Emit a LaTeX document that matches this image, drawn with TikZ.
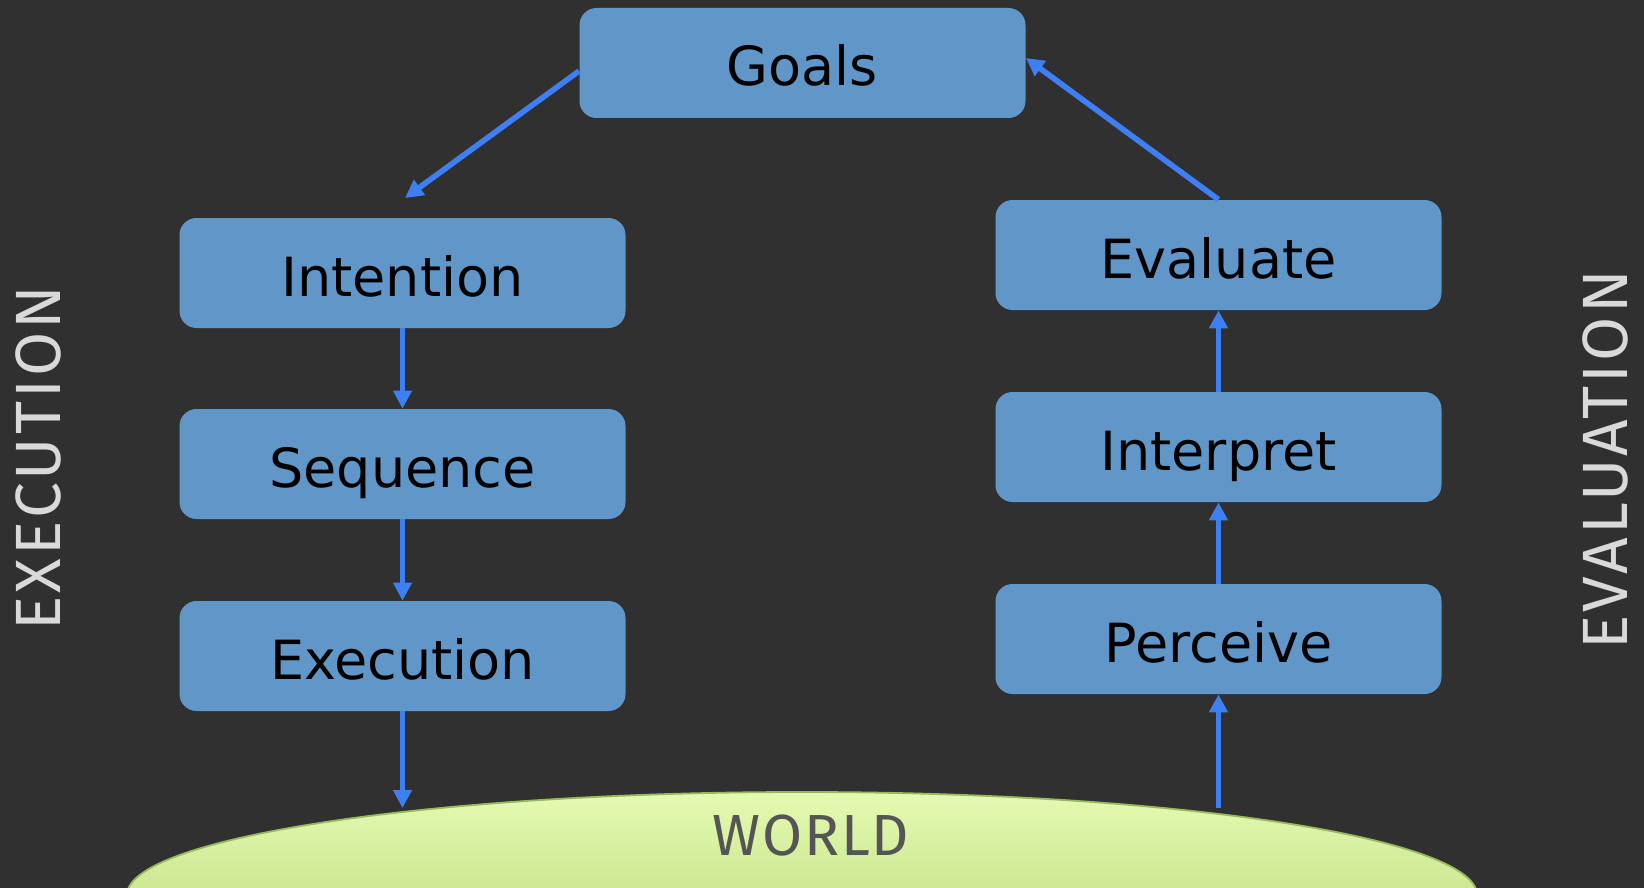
\documentclass[tikz,border=0pt]{standalone}
\usepackage{fontspec}
\setmainfont{DejaVu Sans}
\IfFontExistsTF{FiraSans-Light.otf}
  {\newfontfamily\thinfont{FiraSans-Light.otf}}
  {\newfontfamily\thinfont{Fira Sans}}
\usepackage{tikz}
\usetikzlibrary{arrows.meta}
\usetikzlibrary{shapes.geometric}
\usepackage{xcolor}

\definecolor{bgdark}{HTML}{303030}
\definecolor{boxblue}{HTML}{6096C8}
\definecolor{flowblue}{HTML}{3F7FF6}
\definecolor{sidegray}{HTML}{D9D9D9}
\definecolor{worldgray}{HTML}{555555}
\definecolor{worldtop}{HTML}{E4FAB2}
\definecolor{worldbottom}{HTML}{B4D470}
\definecolor{worldedge}{HTML}{98B85C}

\tikzset{
  stepbox/.style={rounded corners=8.5pt, fill=boxblue, minimum width=223pt, minimum height=55pt,
    inner sep=0pt, text height=23pt, text depth=0pt, font=\fontsize{27}{32}\selectfont, text=black},
  flow/.style={draw=flowblue, line width=2.8pt, -{Triangle[length=9pt,width=9pt]}},
  sidelabel/.style={inner sep=0pt, text=sidegray, font=\thinfont\addfontfeatures{LetterSpace=5}\fontsize{32}{38}\selectfont},
  worldshape/.style={ellipse, draw=worldedge, line width=0.9pt, top color=worldtop, bottom color=worldbottom,
    minimum width=675pt, minimum height=103pt, inner sep=0pt},
  worldlabel/.style={inner sep=0pt, text=worldgray, font=\thinfont\addfontfeatures{LetterSpace=3}\fontsize{29}{34}\selectfont}
}

\begin{document}
\begin{tikzpicture}[x=0.5pt,y=0.5pt,yscale=-1,xscale=1]
%Shape: Rectangle [background]
\fill [bgdark] (0,0) rectangle (1644,888);
\useasboundingbox (0,0) rectangle (1644,888);

%Shape: Ellipse [world, cut by the lower edge]
\begin{scope}
\clip (0,0) rectangle (1644,888);
\node [worldshape] (world) at (802,895) {};
\end{scope}

%Shape: Rounded Rect [goals]
\node [stepbox] (goals) at (802.5,63) {Goals};
%Shape: Rounded Rect [execution side]
\node [stepbox] (intention) at (402.5,273) {Intention};
\node [stepbox] (sequence) at (402.5,464) {Sequence};
\node [stepbox] (execution) at (402.5,656) {Execution};
%Shape: Rounded Rect [evaluation side]
\node [stepbox] (evaluate) at (1218.5,255) {Evaluate};
\node [stepbox] (interpret) at (1218.5,447) {Interpret};
\node [stepbox] (perceive) at (1218.5,639) {Perceive};

%Free ends of the arrows
\coordinate (intentionin) at (405,198);
\coordinate (worldin) at (402.5,808);
\coordinate (worldout) at (1218.5,808);

%Straight Lines [execution]
\draw [flow] ([yshift=4pt]goals.west) -- (intentionin);
\draw [flow] (intention.south) -- (sequence.north);
\draw [flow] (sequence.south) -- (execution.north);
\draw [flow] (execution.south) -- (worldin);
%Straight Lines [evaluation]
\draw [flow] (worldout) -- (perceive.south);
\draw [flow] (perceive.north) -- (interpret.south);
\draw [flow] (interpret.north) -- (evaluate.south);
\draw [flow] (evaluate.north) -- ([yshift=-2.5pt]goals.east);

% Text Node
\node [sidelabel, rotate=90] (execlabel) at (38,458) {EXECUTION};
% Text Node
\node [sidelabel, rotate=90] (evallabel) at (1605,460) {EVALUATION};
% Text Node
\node [worldlabel] (worldtext) at (811,836) {WORLD};

\end{tikzpicture}
\end{document}
